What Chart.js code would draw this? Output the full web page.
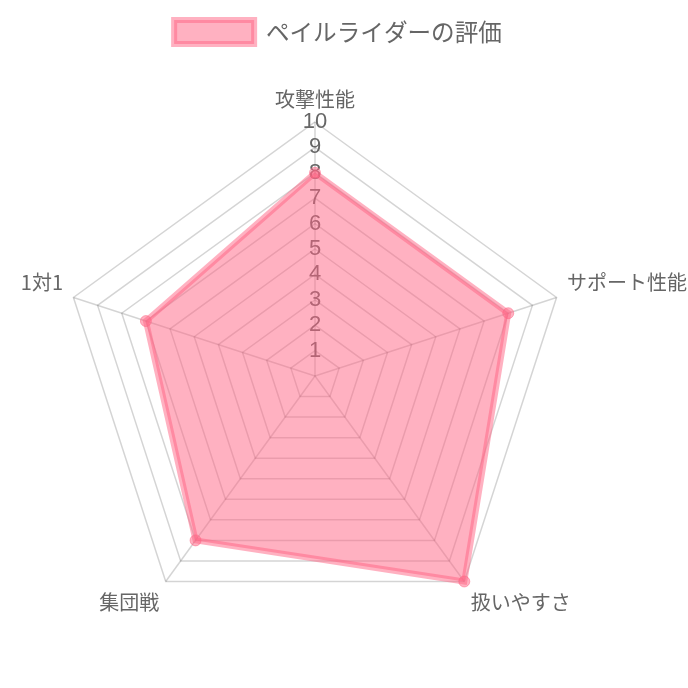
<!DOCTYPE html>
<html>
<head>
<meta charset="utf-8">
<script src="https://cdn.jsdelivr.net/npm/chart.js@4/dist/chart.umd.min.js"></script>
<style>
html,body{margin:0;padding:0;background:#fff;overflow:hidden;}
#wrap{width:688px;height:688px;overflow:hidden;position:relative;}
#c{display:block;position:absolute;left:-35px;top:0;}
</style>
</head>
<body>
<div id="wrap"><canvas id="c" width="746" height="688"></canvas></div>
<script>
const categories = ["攻撃性能", "サポート性能", "扱いやすさ", "集団戦", "1対1"];
const seriesName = "ペイルライダーの評価";
const seriesValues = [8, 8, 10, 8, 7];
const tickValues = [1, 2, 3, 4, 5, 6, 7, 8, 9, 10];

const fontFamily = "'Noto Sans CJK JP', 'Liberation Sans', sans-serif";

new Chart(document.getElementById('c'), {
  type: 'radar',
  data: {
    labels: categories,
    datasets: [{
      label: seriesName,
      data: seriesValues,
      backgroundColor: 'rgba(255,99,132,0.5)',
      borderColor: 'rgba(255,99,132,0.5)',
      borderWidth: 6,
      pointBackgroundColor: 'rgba(255,99,132,0.5)',
      pointBorderColor: 'rgba(255,99,132,0.5)',
      pointRadius: 5.5,
      pointBorderWidth: 1
    }]
  },
  options: {
    responsive: false,
    animation: false,
    layout: {
      padding: { top: 10, left: 0.35, right: 0.35, bottom: 12 }
    },
    plugins: {
      legend: {
        labels: {
          boxWidth: 80,
          boxHeight: 24,
          color: '#666',
          font: { size: 23.6, family: fontFamily }
        }
      },
      tooltip: { enabled: false }
    },
    scales: {
      r: {
        min: 0,
        max: 10,
        afterBuildTicks: (axis) => { axis.ticks = [0].concat(tickValues).map(v => ({ value: v })); },
        grid: { color: 'rgba(0,0,0,0.17)', lineWidth: 1.5 },
        angleLines: { color: 'rgba(0,0,0,0.17)', lineWidth: 1.5 },
        ticks: {
          stepSize: 1,
          showLabelBackdrop: false,
          color: '#666',
          font: { size: 22, family: "'Liberation Sans', sans-serif" }
        },
        pointLabels: {
          color: '#666',
          padding: -2,
          font: { size: 20, family: fontFamily }
        }
      }
    }
  }
});
</script>
</body>
</html>
